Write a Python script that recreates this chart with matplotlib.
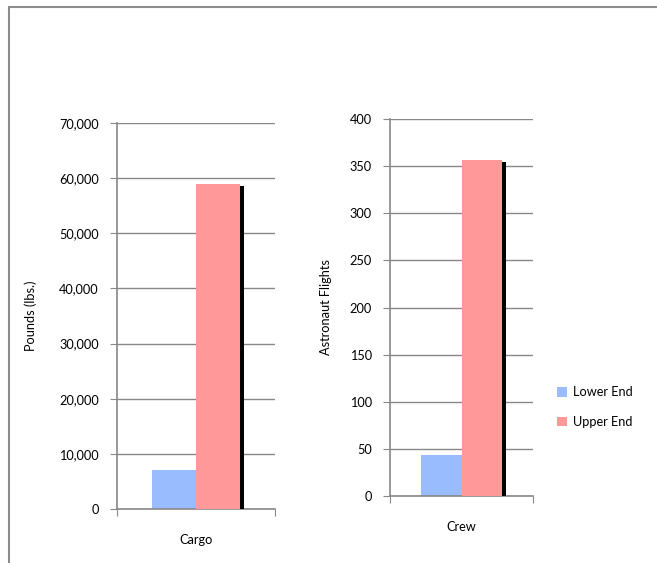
import matplotlib
matplotlib.use("Agg")
import matplotlib.pyplot as plt
import matplotlib.patheffects as pe
from matplotlib.patches import Rectangle, Patch
from matplotlib.ticker import FuncFormatter

# Values per category
cargo_lower = 7000
cargo_upper = 59000
crew_lower = 43
crew_upper = 357

series_names = ["Lower End", "Upper End"]
colors = ["#99bbff", "#ff9999"]

plt.rcParams["font.family"] = ["Lato", "DejaVu Sans"]
grid_col = "#888888"
fs = 9.2

fig = plt.figure(figsize=(6.57, 5.63), dpi=100)

# outer chart border (only top and left edges fall inside the image)
fig.patches.append(Rectangle((9 / 657, -0.1), 1.2, 1 - 7 / 563 + 0.1,
                             transform=fig.transFigure, fill=False,
                             edgecolor="#8c8c8c", lw=1.5))

shadow = [pe.SimplePatchShadow(offset=(3, -2), shadow_rgbFace="black", alpha=1.0),
          pe.Normal()]


def draw_panel(rect, values, label, ymax, ystep, ylabel, fmt, lpad):
    ax = fig.add_axes(rect)
    w = 0.28
    ax.bar(0.5 - w, values[0], width=w, align="edge", color=colors[0],
           path_effects=shadow, zorder=2)
    ax.bar(0.5, values[1], width=w, align="edge", color=colors[1],
           path_effects=shadow, zorder=3)
    ax.set_xlim(0, 1)
    ax.set_ylim(0, ymax)
    ax.set_yticks(range(0, ymax + 1, ystep))
    ax.yaxis.set_major_formatter(FuncFormatter(fmt))
    ax.yaxis.grid(True, color=grid_col, lw=1)
    ax.set_axisbelow(True)
    for s in ["top", "right"]:
        ax.spines[s].set_visible(False)
    for s in ["left", "bottom"]:
        ax.spines[s].set_color(grid_col)
        ax.spines[s].set_linewidth(1.2)
    ax.tick_params(axis="y", length=5, color=grid_col, labelsize=fs, pad=8)
    ax.set_xticks([0, 1])
    ax.set_xticklabels([])
    ax.tick_params(axis="x", length=5, color=grid_col)
    ax.set_xticks([0.5], minor=True)
    ax.set_xticklabels([label], minor=True)
    ax.tick_params(axis="x", which="minor", length=0, labelsize=fs, pad=18)
    ax.set_ylabel(ylabel, fontsize=fs, labelpad=lpad)
    return ax


ax1 = draw_panel([0.178, 0.0959, 0.2405, 0.6856], [cargo_lower, cargo_upper],
                 "Cargo", 70000, 10000, "Pounds (lbs.)",
                 lambda v, p: f"{int(v):,}", 16)
ax2 = draw_panel([0.5936, 0.119, 0.2177, 0.6696], [crew_lower, crew_upper],
                 "Crew", 400, 50, "Astronaut Flights",
                 lambda v, p: f"{int(v)}", 13)

handles = [Patch(facecolor=c, edgecolor="none") for c in colors]
fig.legend(handles, series_names, loc="center left",
           bbox_to_anchor=(0.83, 0.277), frameon=False, fontsize=fs,
           handlelength=0.8, handleheight=0.8, handletextpad=0.5,
           labelspacing=1.4)

fig.savefig("out.png", dpi=100, facecolor="white")
